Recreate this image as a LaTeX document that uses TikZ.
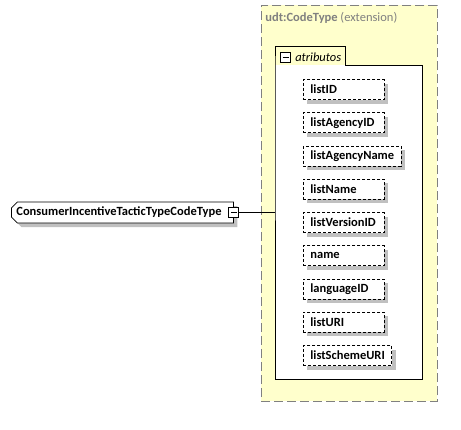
\documentclass[tikz,border=0pt]{standalone}
\usepackage{fontspec}
\setmainfont{Carlito}
\usetikzlibrary{shapes.misc,shadows,positioning}
\definecolor{extfill}{HTML}{FFFFCC}
\definecolor{extline}{HTML}{808080}
\definecolor{shade}{HTML}{C0C0C0}
\definecolor{titlegray}{HTML}{808080}

\newlength{\attrwd}
\newcommand{\attrlabel}[1]{%
  \settowidth{\attrwd}{#1}%
  \ifdim\attrwd<67pt \setlength{\attrwd}{67pt}\fi
  \makebox[\attrwd][l]{#1}}

\tikzset{
  attr/.style={draw, dash pattern=on 3pt off 2pt, fill=white, anchor=west, minimum height=20pt, inner xsep=7pt, inner ysep=0pt, font=\fontsize{12.5}{14}\selectfont\bfseries, drop shadow={fill=shade, opacity=1, shadow xshift=4pt, shadow yshift=-4pt}},
  collapse/.style={draw, fill=white, minimum size=10pt, inner sep=0pt, path picture={\draw ([xshift=2pt]path picture bounding box.west) -- ([xshift=-2pt]path picture bounding box.east);}},
  typebox/.style={chamfered rectangle, chamfered rectangle corners={north west,south west}, chamfered rectangle xsep=3pt, chamfered rectangle ysep=3pt, draw, fill=white, anchor=west, minimum height=21pt, inner xsep=2pt, inner ysep=0pt, font=\fontsize{12.5}{14}\selectfont\bfseries, drop shadow={fill=shade, opacity=1, shadow xshift=4pt, shadow yshift=-4pt}}
}

\begin{document}
\begin{tikzpicture}[x=1pt, y=-1pt, line width=0.8pt]
        \useasboundingbox (0,0) rectangle (461,429);
        % extension area
        \node [draw=extline, fill=extfill, dash pattern=on 9pt off 4pt, anchor=north west, minimum width=176pt, minimum height=396pt] (ext) at (261,5) {};
        \node [anchor=west, text=titlegray, font=\fontsize{12.5}{14}\selectfont, inner sep=0pt] (exttitle) at (265,18) {\textbf{udt:CodeType} (extension)};
        % atributos group
        \node [fill=white, anchor=north west, minimum width=147pt, minimum height=314pt] (attrs) at (275,65) {};
        \draw (attrs.north west) -- ++(0,-19) -- ++(70,0) |- (attrs.north east) -- (attrs.south east) -- (attrs.south west) -- cycle;
        \node [collapse] (tabexp) at (285.5,57) {};
        \node [right=4pt of tabexp, inner sep=0pt, font=\fontsize{12.5}{14}\selectfont\itshape] (tablabel) {atributos};
        \node [attr] (listID) at (303,89.5) {\attrlabel{listID}};
        \node [attr] (listAgencyID) at (303,122.75) {\attrlabel{listAgencyID}};
        \node [attr] (listAgencyName) at (303,156) {\attrlabel{listAgencyName}};
        \node [attr] (listName) at (303,189.25) {\attrlabel{listName}};
        \node [attr] (listVersionID) at (303,222.5) {\attrlabel{listVersionID}};
        \node [attr] (name) at (303,255.75) {\attrlabel{name}};
        \node [attr] (languageID) at (303,289) {\attrlabel{languageID}};
        \node [attr] (listURI) at (303,322.25) {\attrlabel{listURI}};
        \node [attr] (listSchemeURI) at (303,355.5) {\attrlabel{listSchemeURI}};
        % the type itself
        \node [typebox] (codetype) at (11,212.5) {\makebox[212pt][l]{ConsumerIncentiveTacticTypeCodeType}};
        \node [collapse] (expbox) at (codetype.east) {};
        \draw (expbox) -- (attrs.west |- expbox);
\end{tikzpicture}
\end{document}
